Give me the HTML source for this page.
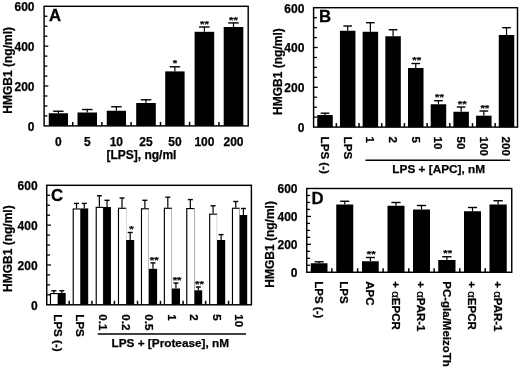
<!DOCTYPE html>
<html><head><meta charset="utf-8"><title>Figure</title>
<style>
html,body{margin:0;padding:0;background:#fff;}
body{width:520px;height:367px;overflow:hidden;font-family:"Liberation Sans",sans-serif;}
svg{display:block;will-change:transform;}
text{font-family:"Liberation Sans",sans-serif;font-weight:bold;fill:#000;stroke:#000;stroke-width:0.25px;}
.t12{font-size:12px;}
.t11{font-size:11px;}
.pl{font-size:16px;}
.star{font-size:10.5px;}
</style></head><body>
<svg width="520" height="367" viewBox="0 0 520 367">
<text transform="translate(12,70.3) rotate(-90)" text-anchor="middle" class="t12" style="font-size:12px">HMGB1 (ng/ml)</text>
<text x="34.5" y="130.80" text-anchor="end" class="t12">0</text>
<line x1="44.1" y1="115.93" x2="47.4" y2="115.93" stroke="#000" stroke-width="1.3"/>
<line x1="44.1" y1="105.97" x2="47.4" y2="105.97" stroke="#000" stroke-width="1.3"/>
<line x1="44.1" y1="96.00" x2="47.4" y2="96.00" stroke="#000" stroke-width="1.3"/>
<line x1="44.1" y1="86.03" x2="48.300000000000004" y2="86.03" stroke="#000" stroke-width="1.3"/>
<text x="34.5" y="90.93" text-anchor="end" class="t12">200</text>
<line x1="44.1" y1="76.07" x2="47.4" y2="76.07" stroke="#000" stroke-width="1.3"/>
<line x1="44.1" y1="66.10" x2="47.4" y2="66.10" stroke="#000" stroke-width="1.3"/>
<line x1="44.1" y1="56.13" x2="47.4" y2="56.13" stroke="#000" stroke-width="1.3"/>
<line x1="44.1" y1="46.17" x2="48.300000000000004" y2="46.17" stroke="#000" stroke-width="1.3"/>
<text x="34.5" y="51.07" text-anchor="end" class="t12">400</text>
<line x1="44.1" y1="36.20" x2="47.4" y2="36.20" stroke="#000" stroke-width="1.3"/>
<line x1="44.1" y1="26.23" x2="47.4" y2="26.23" stroke="#000" stroke-width="1.3"/>
<line x1="44.1" y1="16.27" x2="47.4" y2="16.27" stroke="#000" stroke-width="1.3"/>
<text x="34.5" y="11.20" text-anchor="end" class="t12">600</text>
<line x1="58.38" y1="113.25" x2="58.38" y2="111.25" stroke="#000" stroke-width="1.2"/>
<line x1="53.18" y1="111.25" x2="63.57" y2="111.25" stroke="#000" stroke-width="1.4"/>
<rect x="48.75" y="113.25" width="19.25" height="12.65" fill="#000"/>
<text x="58.38" y="146.3" text-anchor="middle" class="t12">0</text>
<line x1="87.25" y1="112.50" x2="87.25" y2="109.50" stroke="#000" stroke-width="1.2"/>
<line x1="81.98" y1="109.50" x2="92.52" y2="109.50" stroke="#000" stroke-width="1.4"/>
<rect x="77.50" y="112.50" width="19.50" height="13.40" fill="#000"/>
<text x="87.25" y="146.3" text-anchor="middle" class="t12">5</text>
<line x1="116.38" y1="110.75" x2="116.38" y2="106.75" stroke="#000" stroke-width="1.2"/>
<line x1="111.18" y1="106.75" x2="121.57" y2="106.75" stroke="#000" stroke-width="1.4"/>
<rect x="106.75" y="110.75" width="19.25" height="15.15" fill="#000"/>
<text x="116.38" y="146.3" text-anchor="middle" class="t12">10</text>
<line x1="146.00" y1="103.00" x2="146.00" y2="99.80" stroke="#000" stroke-width="1.2"/>
<line x1="140.71" y1="99.80" x2="151.29" y2="99.80" stroke="#000" stroke-width="1.4"/>
<rect x="136.20" y="103.00" width="19.60" height="22.90" fill="#000"/>
<text x="146.00" y="146.3" text-anchor="middle" class="t12">25</text>
<line x1="174.90" y1="71.40" x2="174.90" y2="66.80" stroke="#000" stroke-width="1.2"/>
<line x1="169.66" y1="66.80" x2="180.14" y2="66.80" stroke="#000" stroke-width="1.4"/>
<rect x="165.20" y="71.40" width="19.40" height="54.50" fill="#000"/>
<text transform="translate(174.90,66.40) scale(1.08,0.92)" text-anchor="middle" class="star">*</text>
<text x="174.90" y="146.3" text-anchor="middle" class="t12">50</text>
<line x1="204.40" y1="31.80" x2="204.40" y2="27.00" stroke="#000" stroke-width="1.2"/>
<line x1="199.11" y1="27.00" x2="209.69" y2="27.00" stroke="#000" stroke-width="1.4"/>
<rect x="194.60" y="31.80" width="19.60" height="94.10" fill="#000"/>
<text transform="translate(204.40,26.60) scale(1.08,0.92)" text-anchor="middle" class="star">**</text>
<text x="204.40" y="146.3" text-anchor="middle" class="t12">100</text>
<line x1="233.50" y1="27.00" x2="233.50" y2="22.90" stroke="#000" stroke-width="1.2"/>
<line x1="228.21" y1="22.90" x2="238.79" y2="22.90" stroke="#000" stroke-width="1.4"/>
<rect x="223.70" y="27.00" width="19.60" height="98.90" fill="#000"/>
<text transform="translate(233.50,22.50) scale(1.08,0.92)" text-anchor="middle" class="star">**</text>
<text x="233.50" y="146.3" text-anchor="middle" class="t12">200</text>
<line x1="72.75" y1="125.9" x2="72.75" y2="121.9" stroke="#000" stroke-width="1.5"/>
<line x1="101.88" y1="125.9" x2="101.88" y2="121.9" stroke="#000" stroke-width="1.5"/>
<line x1="131.10" y1="125.9" x2="131.10" y2="121.9" stroke="#000" stroke-width="1.5"/>
<line x1="160.50" y1="125.9" x2="160.50" y2="121.9" stroke="#000" stroke-width="1.5"/>
<line x1="189.60" y1="125.9" x2="189.60" y2="121.9" stroke="#000" stroke-width="1.5"/>
<line x1="218.95" y1="125.9" x2="218.95" y2="121.9" stroke="#000" stroke-width="1.5"/>
<text x="141.4" y="158.8" text-anchor="middle" class="t12">[LPS], ng/ml</text>
<rect x="44.1" y="6.3" width="204.1" height="119.60000000000001" fill="none" stroke="#000" stroke-width="1.45"/>
<text transform="translate(49,21.3) scale(1.05,1)" class="pl">A</text>
<text transform="translate(282.3,71.6) rotate(-90)" text-anchor="middle" class="t12" style="font-size:12px">HMGB1 (ng/ml)</text>
<text x="304.4" y="132.00" text-anchor="end" class="t12">0</text>
<line x1="313.6" y1="117.15" x2="316.90000000000003" y2="117.15" stroke="#000" stroke-width="1.3"/>
<line x1="313.6" y1="107.20" x2="316.90000000000003" y2="107.20" stroke="#000" stroke-width="1.3"/>
<line x1="313.6" y1="97.25" x2="316.90000000000003" y2="97.25" stroke="#000" stroke-width="1.3"/>
<line x1="313.6" y1="87.30" x2="317.8" y2="87.30" stroke="#000" stroke-width="1.3"/>
<text x="304.4" y="92.20" text-anchor="end" class="t12">200</text>
<line x1="313.6" y1="77.35" x2="316.90000000000003" y2="77.35" stroke="#000" stroke-width="1.3"/>
<line x1="313.6" y1="67.40" x2="316.90000000000003" y2="67.40" stroke="#000" stroke-width="1.3"/>
<line x1="313.6" y1="57.45" x2="316.90000000000003" y2="57.45" stroke="#000" stroke-width="1.3"/>
<line x1="313.6" y1="47.50" x2="317.8" y2="47.50" stroke="#000" stroke-width="1.3"/>
<text x="304.4" y="52.40" text-anchor="end" class="t12">400</text>
<line x1="313.6" y1="37.55" x2="316.90000000000003" y2="37.55" stroke="#000" stroke-width="1.3"/>
<line x1="313.6" y1="27.60" x2="316.90000000000003" y2="27.60" stroke="#000" stroke-width="1.3"/>
<line x1="313.6" y1="17.65" x2="316.90000000000003" y2="17.65" stroke="#000" stroke-width="1.3"/>
<text x="304.4" y="12.60" text-anchor="end" class="t12">600</text>
<line x1="325.00" y1="115.00" x2="325.00" y2="113.20" stroke="#000" stroke-width="1.2"/>
<line x1="320.66" y1="113.20" x2="329.34" y2="113.20" stroke="#000" stroke-width="1.4"/>
<rect x="317.25" y="115.00" width="15.50" height="12.10" fill="#000"/>
<text transform="translate(320.82,136.6) rotate(90) scale(1,1.0)" class="t11" style="font-size:11.6px">LPS (-)</text>
<line x1="347.69" y1="30.75" x2="347.69" y2="26.00" stroke="#000" stroke-width="1.2"/>
<line x1="343.35" y1="26.00" x2="352.03" y2="26.00" stroke="#000" stroke-width="1.4"/>
<rect x="339.94" y="30.75" width="15.50" height="96.35" fill="#000"/>
<text transform="translate(343.51,136.6) rotate(90) scale(1,1.0)" class="t11" style="font-size:11.6px">LPS</text>
<line x1="370.38" y1="31.75" x2="370.38" y2="22.70" stroke="#000" stroke-width="1.2"/>
<line x1="366.04" y1="22.70" x2="374.72" y2="22.70" stroke="#000" stroke-width="1.4"/>
<rect x="362.63" y="31.75" width="15.50" height="95.35" fill="#000"/>
<text transform="translate(366.20,136.6) rotate(90) scale(1,1.0)" class="t11" style="font-size:11.6px">1</text>
<line x1="393.07" y1="36.25" x2="393.07" y2="29.75" stroke="#000" stroke-width="1.2"/>
<line x1="388.73" y1="29.75" x2="397.41" y2="29.75" stroke="#000" stroke-width="1.4"/>
<rect x="385.32" y="36.25" width="15.50" height="90.85" fill="#000"/>
<text transform="translate(388.89,136.6) rotate(90) scale(1,1.0)" class="t11" style="font-size:11.6px">2</text>
<line x1="415.76" y1="68.00" x2="415.76" y2="63.50" stroke="#000" stroke-width="1.2"/>
<line x1="411.42" y1="63.50" x2="420.10" y2="63.50" stroke="#000" stroke-width="1.4"/>
<rect x="408.01" y="68.00" width="15.50" height="59.10" fill="#000"/>
<text transform="translate(416.76,63.10) scale(1.08,0.92)" text-anchor="middle" class="star">**</text>
<text transform="translate(411.58,136.6) rotate(90) scale(1,1.0)" class="t11" style="font-size:11.6px">5</text>
<line x1="438.45" y1="104.25" x2="438.45" y2="100.70" stroke="#000" stroke-width="1.2"/>
<line x1="434.11" y1="100.70" x2="442.79" y2="100.70" stroke="#000" stroke-width="1.4"/>
<rect x="430.70" y="104.25" width="15.50" height="22.85" fill="#000"/>
<text transform="translate(439.45,100.30) scale(1.08,0.92)" text-anchor="middle" class="star">**</text>
<text transform="translate(434.27,136.6) rotate(90) scale(1,1.0)" class="t11" style="font-size:11.6px">10</text>
<line x1="461.14" y1="111.75" x2="461.14" y2="107.00" stroke="#000" stroke-width="1.2"/>
<line x1="456.80" y1="107.00" x2="465.48" y2="107.00" stroke="#000" stroke-width="1.4"/>
<rect x="453.39" y="111.75" width="15.50" height="15.35" fill="#000"/>
<text transform="translate(462.14,106.60) scale(1.08,0.92)" text-anchor="middle" class="star">**</text>
<text transform="translate(456.96,136.6) rotate(90) scale(1,1.0)" class="t11" style="font-size:11.6px">50</text>
<line x1="483.83" y1="115.70" x2="483.83" y2="111.00" stroke="#000" stroke-width="1.2"/>
<line x1="479.49" y1="111.00" x2="488.17" y2="111.00" stroke="#000" stroke-width="1.4"/>
<rect x="476.08" y="115.70" width="15.50" height="11.40" fill="#000"/>
<text transform="translate(484.83,110.60) scale(1.08,0.92)" text-anchor="middle" class="star">**</text>
<text transform="translate(479.65,136.6) rotate(90) scale(1,1.0)" class="t11" style="font-size:11.6px">100</text>
<line x1="506.52" y1="35.00" x2="506.52" y2="27.70" stroke="#000" stroke-width="1.2"/>
<line x1="502.18" y1="27.70" x2="510.86" y2="27.70" stroke="#000" stroke-width="1.4"/>
<rect x="498.77" y="35.00" width="15.50" height="92.10" fill="#000"/>
<text transform="translate(502.34,136.6) rotate(90) scale(1,1.0)" class="t11" style="font-size:11.6px">200</text>
<line x1="336.35" y1="127.1" x2="336.35" y2="123.1" stroke="#000" stroke-width="1.5"/>
<line x1="359.03" y1="127.1" x2="359.03" y2="123.1" stroke="#000" stroke-width="1.5"/>
<line x1="381.73" y1="127.1" x2="381.73" y2="123.1" stroke="#000" stroke-width="1.5"/>
<line x1="404.41" y1="127.1" x2="404.41" y2="123.1" stroke="#000" stroke-width="1.5"/>
<line x1="427.11" y1="127.1" x2="427.11" y2="123.1" stroke="#000" stroke-width="1.5"/>
<line x1="449.79" y1="127.1" x2="449.79" y2="123.1" stroke="#000" stroke-width="1.5"/>
<line x1="472.49" y1="127.1" x2="472.49" y2="123.1" stroke="#000" stroke-width="1.5"/>
<line x1="495.18" y1="127.1" x2="495.18" y2="123.1" stroke="#000" stroke-width="1.5"/>
<line x1="365.5" y1="160.2" x2="510" y2="160.2" stroke="#000" stroke-width="1.5"/>
<text x="438.7" y="172.6" text-anchor="middle" class="t12" style="font-size:11.8px">LPS + [APC], nM</text>
<rect x="313.6" y="7.7" width="203.89999999999998" height="119.39999999999999" fill="none" stroke="#000" stroke-width="1.45"/>
<text transform="translate(319,21.6) scale(1.05,1)" class="pl">B</text>
<text transform="translate(12,248.7) rotate(-90)" text-anchor="middle" class="t12" style="font-size:12px">HMGB1 (ng/ml)</text>
<text x="37.6" y="309.70" text-anchor="end" class="t12">0</text>
<line x1="46.75" y1="294.84" x2="50.05" y2="294.84" stroke="#000" stroke-width="1.3"/>
<line x1="46.75" y1="284.88" x2="50.05" y2="284.88" stroke="#000" stroke-width="1.3"/>
<line x1="46.75" y1="274.93" x2="50.05" y2="274.93" stroke="#000" stroke-width="1.3"/>
<line x1="46.75" y1="264.97" x2="50.95" y2="264.97" stroke="#000" stroke-width="1.3"/>
<text x="37.6" y="269.87" text-anchor="end" class="t12">200</text>
<line x1="46.75" y1="255.01" x2="50.05" y2="255.01" stroke="#000" stroke-width="1.3"/>
<line x1="46.75" y1="245.05" x2="50.05" y2="245.05" stroke="#000" stroke-width="1.3"/>
<line x1="46.75" y1="235.09" x2="50.05" y2="235.09" stroke="#000" stroke-width="1.3"/>
<line x1="46.75" y1="225.13" x2="50.95" y2="225.13" stroke="#000" stroke-width="1.3"/>
<text x="37.6" y="230.03" text-anchor="end" class="t12">400</text>
<line x1="46.75" y1="215.18" x2="50.05" y2="215.18" stroke="#000" stroke-width="1.3"/>
<line x1="46.75" y1="205.22" x2="50.05" y2="205.22" stroke="#000" stroke-width="1.3"/>
<line x1="46.75" y1="195.26" x2="50.05" y2="195.26" stroke="#000" stroke-width="1.3"/>
<text x="37.6" y="190.20" text-anchor="end" class="t12">600</text>
<line x1="53.88" y1="293.00" x2="53.88" y2="290.75" stroke="#000" stroke-width="1.2"/>
<line x1="51.38" y1="290.75" x2="56.38" y2="290.75" stroke="#000" stroke-width="1.4"/>
<rect x="49.90" y="293.00" width="7.95" height="11.80" fill="#000"/>
<rect x="51.05" y="294.15" width="6.65" height="10.65" fill="#fff"/>
<line x1="61.78" y1="293.00" x2="61.78" y2="290.75" stroke="#000" stroke-width="1.2"/>
<line x1="59.28" y1="290.75" x2="64.28" y2="290.75" stroke="#000" stroke-width="1.4"/>
<rect x="57.85" y="293.00" width="7.85" height="11.80" fill="#000"/>
<text transform="translate(53.67,314.3) rotate(90) scale(1,1.0)" class="t11" style="font-size:11.6px">LPS (-)</text>
<line x1="76.50" y1="208.40" x2="76.50" y2="203.40" stroke="#000" stroke-width="1.2"/>
<line x1="74.00" y1="203.40" x2="79.00" y2="203.40" stroke="#000" stroke-width="1.4"/>
<rect x="72.65" y="208.40" width="7.70" height="96.40" fill="#000"/>
<rect x="73.80" y="209.55" width="6.40" height="95.25" fill="#fff"/>
<line x1="84.28" y1="208.40" x2="84.28" y2="203.40" stroke="#000" stroke-width="1.2"/>
<line x1="81.78" y1="203.40" x2="86.78" y2="203.40" stroke="#000" stroke-width="1.4"/>
<rect x="80.35" y="208.40" width="7.85" height="96.40" fill="#000"/>
<text transform="translate(76.17,314.3) rotate(90) scale(1,1.0)" class="t11" style="font-size:11.6px">LPS</text>
<line x1="99.38" y1="206.80" x2="99.38" y2="195.75" stroke="#000" stroke-width="1.2"/>
<line x1="96.88" y1="195.75" x2="101.88" y2="195.75" stroke="#000" stroke-width="1.4"/>
<rect x="95.65" y="206.80" width="7.45" height="98.00" fill="#000"/>
<rect x="96.80" y="207.95" width="6.15" height="96.85" fill="#fff"/>
<line x1="107.03" y1="207.00" x2="107.03" y2="200.30" stroke="#000" stroke-width="1.2"/>
<line x1="104.53" y1="200.30" x2="109.53" y2="200.30" stroke="#000" stroke-width="1.4"/>
<rect x="103.10" y="207.00" width="7.85" height="97.80" fill="#000"/>
<text transform="translate(98.92,314.3) rotate(90) scale(1,1.0)" class="t11" style="font-size:11.6px">0.1</text>
<line x1="122.03" y1="207.70" x2="122.03" y2="198.00" stroke="#000" stroke-width="1.2"/>
<line x1="119.53" y1="198.00" x2="124.53" y2="198.00" stroke="#000" stroke-width="1.4"/>
<rect x="117.90" y="207.70" width="8.25" height="97.10" fill="#000"/>
<rect x="119.05" y="208.85" width="6.95" height="95.95" fill="#fff"/>
<line x1="130.17" y1="240.00" x2="130.17" y2="232.50" stroke="#000" stroke-width="1.2"/>
<line x1="127.67" y1="232.50" x2="132.67" y2="232.50" stroke="#000" stroke-width="1.4"/>
<rect x="126.15" y="240.00" width="8.05" height="64.80" fill="#000"/>
<text transform="translate(131.37,232.10) scale(1.08,0.92)" text-anchor="middle" class="star">*</text>
<text transform="translate(121.97,314.3) rotate(90) scale(1,1.0)" class="t11" style="font-size:11.6px">0.2</text>
<line x1="144.88" y1="208.20" x2="144.88" y2="200.30" stroke="#000" stroke-width="1.2"/>
<line x1="142.38" y1="200.30" x2="147.38" y2="200.30" stroke="#000" stroke-width="1.4"/>
<rect x="140.90" y="208.20" width="7.95" height="96.60" fill="#000"/>
<rect x="142.05" y="209.35" width="6.65" height="95.45" fill="#fff"/>
<line x1="152.97" y1="268.80" x2="152.97" y2="262.90" stroke="#000" stroke-width="1.2"/>
<line x1="150.47" y1="262.90" x2="155.47" y2="262.90" stroke="#000" stroke-width="1.4"/>
<rect x="148.85" y="268.80" width="8.25" height="36.00" fill="#000"/>
<text transform="translate(154.17,262.50) scale(1.08,0.92)" text-anchor="middle" class="star">**</text>
<text transform="translate(144.67,314.3) rotate(90) scale(1,1.0)" class="t11" style="font-size:11.6px">0.5</text>
<line x1="167.82" y1="207.70" x2="167.82" y2="197.20" stroke="#000" stroke-width="1.2"/>
<line x1="165.32" y1="197.20" x2="170.32" y2="197.20" stroke="#000" stroke-width="1.4"/>
<rect x="163.80" y="207.70" width="8.05" height="97.10" fill="#000"/>
<rect x="164.95" y="208.85" width="6.75" height="95.95" fill="#fff"/>
<line x1="175.93" y1="288.50" x2="175.93" y2="283.00" stroke="#000" stroke-width="1.2"/>
<line x1="173.43" y1="283.00" x2="178.43" y2="283.00" stroke="#000" stroke-width="1.4"/>
<rect x="171.85" y="288.50" width="8.15" height="16.30" fill="#000"/>
<text transform="translate(177.12,282.60) scale(1.08,0.92)" text-anchor="middle" class="star">**</text>
<text transform="translate(167.67,314.3) rotate(90) scale(1,1.0)" class="t11" style="font-size:11.6px">1</text>
<line x1="190.32" y1="208.00" x2="190.32" y2="199.60" stroke="#000" stroke-width="1.2"/>
<line x1="187.82" y1="199.60" x2="192.82" y2="199.60" stroke="#000" stroke-width="1.4"/>
<rect x="186.20" y="208.00" width="8.25" height="96.80" fill="#000"/>
<rect x="187.35" y="209.15" width="6.95" height="95.65" fill="#fff"/>
<line x1="198.32" y1="290.30" x2="198.32" y2="287.00" stroke="#000" stroke-width="1.2"/>
<line x1="195.82" y1="287.00" x2="200.82" y2="287.00" stroke="#000" stroke-width="1.4"/>
<rect x="194.45" y="290.30" width="7.75" height="14.50" fill="#000"/>
<text transform="translate(199.52,286.60) scale(1.08,0.92)" text-anchor="middle" class="star">**</text>
<text transform="translate(190.27,314.3) rotate(90) scale(1,1.0)" class="t11" style="font-size:11.6px">2</text>
<line x1="213.07" y1="213.60" x2="213.07" y2="205.80" stroke="#000" stroke-width="1.2"/>
<line x1="210.57" y1="205.80" x2="215.57" y2="205.80" stroke="#000" stroke-width="1.4"/>
<rect x="209.10" y="213.60" width="7.95" height="91.20" fill="#000"/>
<rect x="210.25" y="214.75" width="6.65" height="90.05" fill="#fff"/>
<line x1="221.12" y1="240.00" x2="221.12" y2="234.60" stroke="#000" stroke-width="1.2"/>
<line x1="218.62" y1="234.60" x2="223.62" y2="234.60" stroke="#000" stroke-width="1.4"/>
<rect x="217.05" y="240.00" width="8.15" height="64.80" fill="#000"/>
<text transform="translate(212.87,314.3) rotate(90) scale(1,1.0)" class="t11" style="font-size:11.6px">5</text>
<line x1="235.78" y1="207.70" x2="235.78" y2="201.50" stroke="#000" stroke-width="1.2"/>
<line x1="233.28" y1="201.50" x2="238.28" y2="201.50" stroke="#000" stroke-width="1.4"/>
<rect x="231.90" y="207.70" width="7.75" height="97.10" fill="#000"/>
<rect x="233.05" y="208.85" width="6.45" height="95.95" fill="#fff"/>
<line x1="243.43" y1="215.00" x2="243.43" y2="208.50" stroke="#000" stroke-width="1.2"/>
<line x1="240.93" y1="208.50" x2="245.93" y2="208.50" stroke="#000" stroke-width="1.4"/>
<rect x="239.65" y="215.00" width="7.55" height="89.80" fill="#000"/>
<text transform="translate(235.47,314.3) rotate(90) scale(1,1.0)" class="t11" style="font-size:11.6px">10</text>
<line x1="69.18" y1="304.8" x2="69.18" y2="300.8" stroke="#000" stroke-width="1.5"/>
<line x1="91.93" y1="304.8" x2="91.93" y2="300.8" stroke="#000" stroke-width="1.5"/>
<line x1="114.43" y1="304.8" x2="114.43" y2="300.8" stroke="#000" stroke-width="1.5"/>
<line x1="137.55" y1="304.8" x2="137.55" y2="300.8" stroke="#000" stroke-width="1.5"/>
<line x1="160.45" y1="304.8" x2="160.45" y2="300.8" stroke="#000" stroke-width="1.5"/>
<line x1="183.10" y1="304.8" x2="183.10" y2="300.8" stroke="#000" stroke-width="1.5"/>
<line x1="205.65" y1="304.8" x2="205.65" y2="300.8" stroke="#000" stroke-width="1.5"/>
<line x1="228.55" y1="304.8" x2="228.55" y2="300.8" stroke="#000" stroke-width="1.5"/>
<line x1="97.7" y1="333.9" x2="246" y2="333.9" stroke="#000" stroke-width="1.5"/>
<text x="170.3" y="347" text-anchor="middle" class="t12" style="font-size:11.8px">LPS + [Protease], nM</text>
<rect x="46.75" y="185.3" width="204.65" height="119.5" fill="none" stroke="#000" stroke-width="1.45"/>
<text transform="translate(51,200.5) scale(1.05,1)" class="pl">C</text>
<text transform="translate(274,244.4) rotate(-90)" text-anchor="middle" class="t12" style="font-size:12px">HMGB1 (ng/ml)</text>
<text x="297.5" y="277.15" text-anchor="end" class="t12">0</text>
<line x1="306.75" y1="265.27" x2="310.05" y2="265.27" stroke="#000" stroke-width="1.3"/>
<line x1="306.75" y1="258.29" x2="310.05" y2="258.29" stroke="#000" stroke-width="1.3"/>
<line x1="306.75" y1="251.31" x2="310.05" y2="251.31" stroke="#000" stroke-width="1.3"/>
<line x1="306.75" y1="244.33" x2="310.95" y2="244.33" stroke="#000" stroke-width="1.3"/>
<text x="297.5" y="249.23" text-anchor="end" class="t12">200</text>
<line x1="306.75" y1="237.35" x2="310.05" y2="237.35" stroke="#000" stroke-width="1.3"/>
<line x1="306.75" y1="230.38" x2="310.05" y2="230.38" stroke="#000" stroke-width="1.3"/>
<line x1="306.75" y1="223.40" x2="310.05" y2="223.40" stroke="#000" stroke-width="1.3"/>
<line x1="306.75" y1="216.42" x2="310.95" y2="216.42" stroke="#000" stroke-width="1.3"/>
<text x="297.5" y="221.32" text-anchor="end" class="t12">400</text>
<line x1="306.75" y1="209.44" x2="310.05" y2="209.44" stroke="#000" stroke-width="1.3"/>
<line x1="306.75" y1="202.46" x2="310.05" y2="202.46" stroke="#000" stroke-width="1.3"/>
<line x1="306.75" y1="195.48" x2="310.05" y2="195.48" stroke="#000" stroke-width="1.3"/>
<text x="297.5" y="193.40" text-anchor="end" class="t12">600</text>
<line x1="319.12" y1="263.25" x2="319.12" y2="261.80" stroke="#000" stroke-width="1.2"/>
<line x1="314.60" y1="261.80" x2="323.65" y2="261.80" stroke="#000" stroke-width="1.4"/>
<rect x="310.75" y="263.25" width="16.75" height="9.00" fill="#000"/>
<text transform="translate(314.86,281.3) rotate(90) scale(1,1.03)" class="t11" style="font-size:11.5px">LPS (-)</text>
<line x1="344.75" y1="204.50" x2="344.75" y2="201.25" stroke="#000" stroke-width="1.2"/>
<line x1="340.16" y1="201.25" x2="349.34" y2="201.25" stroke="#000" stroke-width="1.4"/>
<rect x="336.25" y="204.50" width="17.00" height="67.75" fill="#000"/>
<text transform="translate(340.49,281.3) rotate(90) scale(1,1.03)" class="t11" style="font-size:11.5px">LPS</text>
<line x1="370.38" y1="261.25" x2="370.38" y2="257.50" stroke="#000" stroke-width="1.2"/>
<line x1="365.85" y1="257.50" x2="374.90" y2="257.50" stroke="#000" stroke-width="1.4"/>
<rect x="362.00" y="261.25" width="16.75" height="11.00" fill="#000"/>
<text transform="translate(371.18,257.10) scale(1.08,0.92)" text-anchor="middle" class="star">**</text>
<text transform="translate(366.11,281.3) rotate(90) scale(1,1.03)" class="t11" style="font-size:11.5px">APC</text>
<line x1="396.00" y1="205.75" x2="396.00" y2="202.50" stroke="#000" stroke-width="1.2"/>
<line x1="391.41" y1="202.50" x2="400.59" y2="202.50" stroke="#000" stroke-width="1.4"/>
<rect x="387.50" y="205.75" width="17.00" height="66.50" fill="#000"/>
<text transform="translate(391.74,281.3) rotate(90) scale(1,1.03)" class="t11" style="font-size:11.5px">+ <tspan style="font-weight:normal">α</tspan>EPCR</text>
<line x1="421.50" y1="209.50" x2="421.50" y2="205.50" stroke="#000" stroke-width="1.2"/>
<line x1="416.91" y1="205.50" x2="426.09" y2="205.50" stroke="#000" stroke-width="1.4"/>
<rect x="413.00" y="209.50" width="17.00" height="62.75" fill="#000"/>
<text transform="translate(417.24,281.3) rotate(90) scale(1,1.03)" class="t11" style="font-size:11.5px">+ <tspan style="font-weight:normal">α</tspan>PAR-1</text>
<line x1="446.88" y1="260.00" x2="446.88" y2="256.75" stroke="#000" stroke-width="1.2"/>
<line x1="442.22" y1="256.75" x2="451.53" y2="256.75" stroke="#000" stroke-width="1.4"/>
<rect x="438.25" y="260.00" width="17.25" height="12.25" fill="#000"/>
<text transform="translate(447.68,256.35) scale(1.08,0.92)" text-anchor="middle" class="star">**</text>
<text transform="translate(442.61,281.3) rotate(90) scale(1,1.03)" class="t11" style="font-size:11.5px">PC-gla/MeizoTh</text>
<line x1="472.50" y1="211.25" x2="472.50" y2="207.50" stroke="#000" stroke-width="1.2"/>
<line x1="467.91" y1="207.50" x2="477.09" y2="207.50" stroke="#000" stroke-width="1.4"/>
<rect x="464.00" y="211.25" width="17.00" height="61.00" fill="#000"/>
<text transform="translate(468.24,281.3) rotate(90) scale(1,1.03)" class="t11" style="font-size:11.5px">+ <tspan style="font-weight:normal">α</tspan>EPCR</text>
<line x1="498.12" y1="204.50" x2="498.12" y2="200.75" stroke="#000" stroke-width="1.2"/>
<line x1="493.47" y1="200.75" x2="502.78" y2="200.75" stroke="#000" stroke-width="1.4"/>
<rect x="489.50" y="204.50" width="17.25" height="67.75" fill="#000"/>
<text transform="translate(493.86,281.3) rotate(90) scale(1,1.03)" class="t11" style="font-size:11.5px">+ <tspan style="font-weight:normal">α</tspan>PAR-1</text>
<line x1="331.88" y1="272.25" x2="331.88" y2="268.25" stroke="#000" stroke-width="1.5"/>
<line x1="357.62" y1="272.25" x2="357.62" y2="268.25" stroke="#000" stroke-width="1.5"/>
<line x1="383.12" y1="272.25" x2="383.12" y2="268.25" stroke="#000" stroke-width="1.5"/>
<line x1="408.75" y1="272.25" x2="408.75" y2="268.25" stroke="#000" stroke-width="1.5"/>
<line x1="434.12" y1="272.25" x2="434.12" y2="268.25" stroke="#000" stroke-width="1.5"/>
<line x1="459.75" y1="272.25" x2="459.75" y2="268.25" stroke="#000" stroke-width="1.5"/>
<line x1="485.25" y1="272.25" x2="485.25" y2="268.25" stroke="#000" stroke-width="1.5"/>
<rect x="306.75" y="188.5" width="205.0" height="83.75" fill="none" stroke="#000" stroke-width="1.45"/>
<text transform="translate(311.5,203.6) scale(1.05,1)" class="pl">D</text>
</svg>
</body></html>
